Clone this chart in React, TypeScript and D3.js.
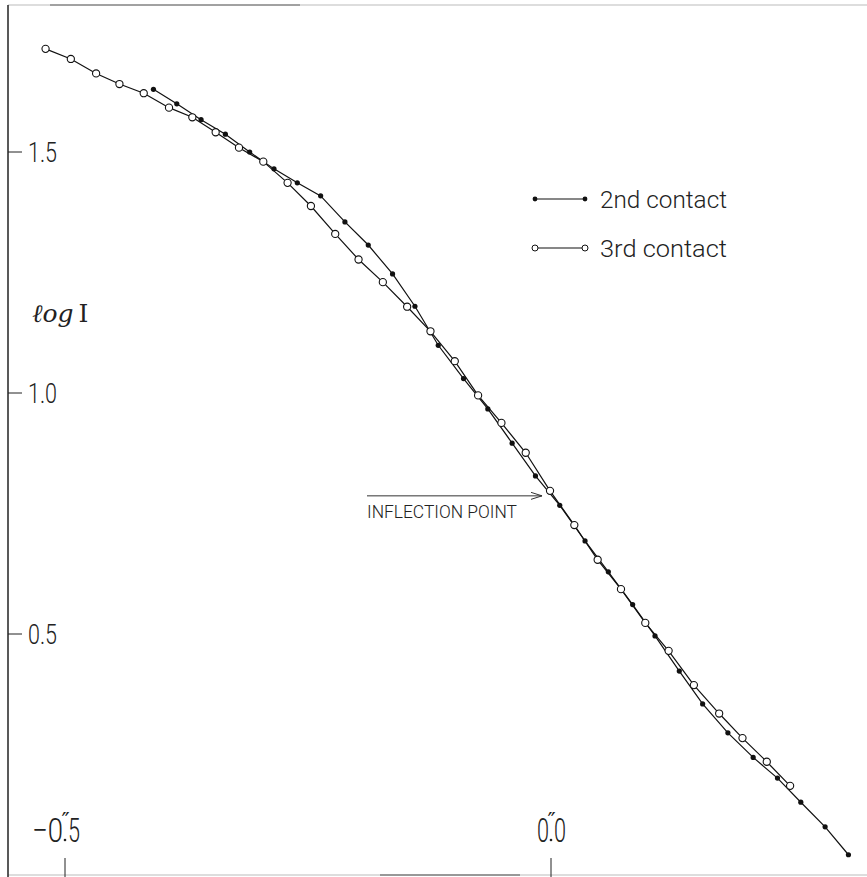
import React from "react";
import * as d3 from "d3";

// 3rd contact (open circles): [x offset in arcsec, log I]
const thirdX = [-0.520, -0.494, -0.468, -0.444, -0.419, -0.393, -0.369, -0.345, -0.321, -0.296, -0.271, -0.247, -0.222, -0.198, -0.173, -0.148, -0.124, -0.099, -0.075, -0.051, -0.026, -0.001, 0.024, 0.048, 0.072, 0.097, 0.121, 0.147, 0.173, 0.197, 0.222, 0.246];
const thirdY = [1.714, 1.693, 1.663, 1.641, 1.622, 1.592, 1.572, 1.541, 1.509, 1.480, 1.436, 1.388, 1.330, 1.277, 1.230, 1.179, 1.128, 1.066, 0.995, 0.938, 0.876, 0.797, 0.726, 0.654, 0.593, 0.523, 0.465, 0.394, 0.335, 0.284, 0.235, 0.185];

// 2nd contact (filled dots)
const secondX = [-0.409, -0.385, -0.360, -0.335, -0.310, -0.285, -0.261, -0.237, -0.212, -0.188, -0.163, -0.140, -0.116, -0.090, -0.065, -0.040, -0.016, 0.009, 0.035, 0.059, 0.084, 0.107, 0.132, 0.156, 0.182, 0.208, 0.233, 0.257, 0.282, 0.306];
const secondY = [1.630, 1.600, 1.567, 1.537, 1.500, 1.465, 1.436, 1.409, 1.355, 1.307, 1.247, 1.180, 1.099, 1.030, 0.967, 0.896, 0.828, 0.767, 0.693, 0.629, 0.561, 0.496, 0.423, 0.355, 0.295, 0.244, 0.201, 0.151, 0.100, 0.042];

const yTicks = [1.5, 1.0, 0.5];
const yTickLabels = ["1.5", "1.0", "0.5"];
const xTicks = [-0.5, 0.0];
const xTickLabels = [["−0", "5"], ["0", "0"]];
const legendLabels = ["2nd contact", "3rd contact"];
const annotation = "INFLECTION POINT";
const inflectionX = 0.0;

const W = 867;
const H = 877;
const FONT = "Roboto, 'Liberation Sans', 'DejaVu Sans', sans-serif";

export default function App() {
  const x = d3.scaleLinear().domain([-0.5, 0]).range([65, 551]);
  const y = d3.scaleLinear().domain([0.5, 1.5]).range([634, 152]);

  const third = thirdX.map((v, i) => [v, thirdY[i]] as [number, number]);
  const second = secondX.map((v, i) => [v, secondY[i]] as [number, number]);
  const line = d3
    .line<[number, number]>()
    .x((d) => x(d[0]))
    .y((d) => y(d[1]));

  const infl = third.find((d) => Math.abs(d[0] - inflectionX) < 0.01)!;
  const arrowY = y(infl[1]) + 5;
  const arrowEnd = x(infl[0]) - 8;

  return (
    <svg
      width={W}
      height={H}
      style={{ position: "absolute", left: 0, top: 0, background: "#fff" }}
      fontFamily={FONT}
    >
      <rect x={0} y={0} width={W} height={H} fill="#fff" />
      {/* frame */}
      <line x1={8} x2={W} y1={5} y2={5} stroke="#bbb" strokeWidth={1} />
      <line x1={50} x2={300} y1={5} y2={5} stroke="#666" strokeWidth={1} />
      <line x1={8} x2={W} y1={875} y2={875} stroke="#bbb" strokeWidth={1} />
      <line x1={380} x2={520} y1={875} y2={875} stroke="#555" strokeWidth={1.2} />
      <line x1={8} x2={8} y1={5} y2={H} stroke="#222" strokeWidth={1.5} />

      {/* y ticks */}
      {yTicks.map((t, i) => (
        <g key={"yt" + i}>
          <line x1={8} x2={22} y1={y(t)} y2={y(t)} stroke="#222" strokeWidth={1} />
          <text
            x={28}
            y={y(t) + 10}
            fontSize={27}
            fontWeight={300}
            textLength={29}
            lengthAdjust="spacingAndGlyphs"
            fill="#222"
          >
            {yTickLabels[i]}
          </text>
        </g>
      ))}

      {/* x ticks */}
      {xTicks.map((t, i) => {
        const cx = x(t);
        const [a, b] = xTickLabels[i];
        const aw = a.length > 1 ? 31 : 12;
        return (
          <g key={"xt" + i}>
            <line x1={cx} x2={cx} y1={858} y2={877} stroke="#222" strokeWidth={1} />
            <text
              x={cx - 2}
              y={842}
              fontSize={34}
              fontWeight={300}
              textAnchor="end"
              textLength={aw}
              lengthAdjust="spacingAndGlyphs"
              fill="#222"
            >
              {a}
            </text>
            <circle cx={cx} cy={840} r={1.3} fill="#222" />
            <text
              x={cx + 3}
              y={842}
              fontSize={34}
              fontWeight={300}
              textLength={12}
              lengthAdjust="spacingAndGlyphs"
              fill="#222"
            >
              {b}
            </text>
            <text
              x={cx + 0.5}
              y={828}
              fontSize={22}
              textAnchor="middle"
              fill="#222"
              fontFamily="'DejaVu Sans', sans-serif"
            >
              ″
            </text>
          </g>
        );
      })}

      {/* axis title */}
      <text x={32} y={322} fontSize={25} fill="#222" fontFamily="'DejaVu Serif', 'Liberation Serif', serif">
        <tspan fontStyle="italic">ℓog</tspan>
        <tspan dx={5}>I</tspan>
      </text>

      {/* series lines */}
      <path d={line(second)!} fill="none" stroke="#111" strokeWidth={1.2} />
      <path d={line(third)!} fill="none" stroke="#111" strokeWidth={1.2} />
      {second.map((d, i) => (
        <circle key={"s" + i} cx={x(d[0])} cy={y(d[1])} r={2.6} fill="#111" />
      ))}
      {third.map((d, i) => (
        <circle key={"t" + i} cx={x(d[0])} cy={y(d[1])} r={3.6} fill="#fff" stroke="#111" strokeWidth={1.1} />
      ))}

      {/* inflection annotation */}
      <line x1={367} x2={arrowEnd} y1={arrowY} y2={arrowY} stroke="#333" strokeWidth={1} />
      <path
        d={`M${arrowEnd - 11},${arrowY - 3.5} L${arrowEnd},${arrowY} L${arrowEnd - 11},${arrowY + 3.5}`}
        fill="none"
        stroke="#333"
        strokeWidth={1}
      />
      <text
        x={367}
        y={518}
        fontSize={19}
        fontWeight={300}
        textLength={150}
        lengthAdjust="spacingAndGlyphs"
        fill="#222"
      >
        {annotation}
      </text>

      {/* legend */}
      {legendLabels.map((lab, i) => {
        const ly = i === 0 ? 199 : 248;
        return (
          <g key={"lg" + i}>
            <line x1={535} x2={585} y1={ly} y2={ly} stroke="#111" strokeWidth={1.2} />
            {i === 0 ? (
              <>
                <circle cx={535} cy={ly} r={2.4} fill="#111" />
                <circle cx={585} cy={ly} r={2.4} fill="#111" />
              </>
            ) : (
              <>
                <circle cx={535} cy={ly} r={3} fill="#fff" stroke="#111" strokeWidth={1} />
                <circle cx={585} cy={ly} r={3} fill="#fff" stroke="#111" strokeWidth={1} />
              </>
            )}
            <text
              x={600}
              y={ly + 9}
              fontSize={23}
              fontWeight={300}
              textLength={127}
              lengthAdjust="spacingAndGlyphs"
              fill="#222"
            >
              {lab}
            </text>
          </g>
        );
      })}
    </svg>
  );
}
